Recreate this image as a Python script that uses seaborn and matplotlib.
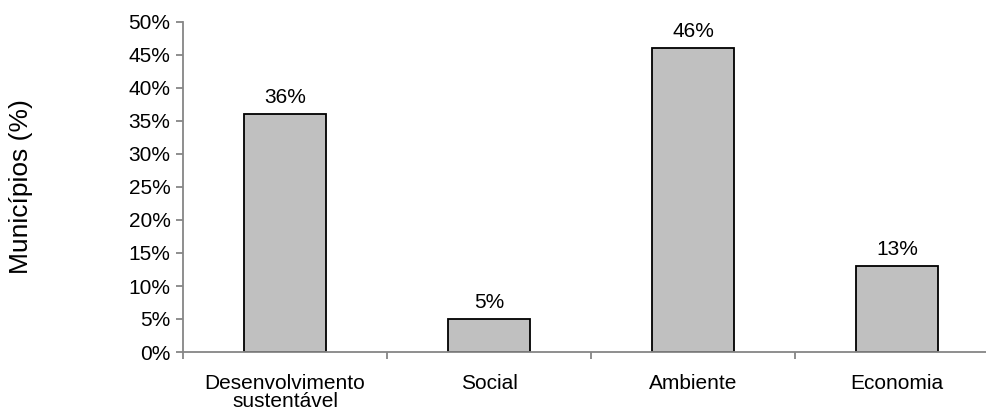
import numpy as np
import pandas as pd
import matplotlib
matplotlib.use('Agg')
import matplotlib.pyplot as plt
import seaborn as sns
from matplotlib.ticker import PercentFormatter, FixedLocator

categories = ['Desenvolvimento\nsustentável', 'Social', 'Ambiente', 'Economia']
values = [36, 5, 46, 13]
labels = ['36%', '5%', '46%', '13%']

df = pd.DataFrame({'tema': categories, 'pct': values})

sns.set_style('white')
plt.rcParams['font.family'] = ['Liberation Sans', 'DejaVu Sans']
plt.rcParams['text.color'] = 'black'
plt.rcParams['xtick.color'] = 'black'
plt.rcParams['ytick.color'] = 'black'
plt.rcParams['axes.labelcolor'] = 'black'

fig = plt.figure(figsize=(9.87, 4.09), dpi=100)
ax = fig.add_axes([183 / 987, 57 / 409, 816 / 987, 330 / 409])

sns.barplot(data=df, x='tema', y='pct', color='#c0c0c0', saturation=1,
            width=0.4, edgecolor='black', linewidth=1.3, ax=ax)

for i, (v, lab) in enumerate(zip(values, labels)):
    ax.annotate(lab, (i, v), xytext=(0, 5), textcoords='offset points',
                ha='center', va='bottom', fontsize=15)

ax.set_xlim(-0.5, 3.5)
ax.set_ylim(0, 50)
ax.set_yticks(np.arange(0, 51, 5))
ax.yaxis.set_major_formatter(PercentFormatter(decimals=0))
ax.xaxis.set_minor_locator(FixedLocator([-0.5, 0.5, 1.5, 2.5, 3.5]))

for s in ['top', 'right']:
    ax.spines[s].set_visible(False)
for s in ['left', 'bottom']:
    ax.spines[s].set_color('#868686')
    ax.spines[s].set_linewidth(1.3)

ax.tick_params(axis='y', which='major', left=True, length=5, width=1.3,
               color='#868686', labelcolor='black', labelsize=15, pad=4)
ax.tick_params(axis='x', which='major', bottom=False, labelcolor='black',
               labelsize=15, pad=12)
ax.tick_params(axis='x', which='minor', bottom=True, length=5, width=1.3,
               color='#868686', direction='out')
for t in ax.get_xticklabels():
    t.set_linespacing(0.95)

ax.set_xlabel('')
ax.set_ylabel('Municípios (%)', fontsize=19)
ax.yaxis.set_label_coords(-150 / 816, 0.5)

fig.savefig('out.png', dpi=100)
